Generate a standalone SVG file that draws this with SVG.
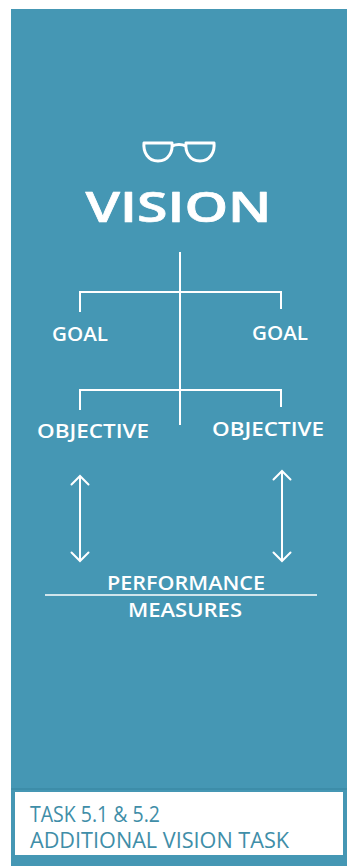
<svg xmlns="http://www.w3.org/2000/svg" width="347" height="866" viewBox="0 0 347 866">
<style>
.lbl{font-family:"Open Sans","Liberation Sans",sans-serif;font-weight:600;fill:#fff;text-anchor:middle}
.ln{stroke:#fff;stroke-width:2;fill:none}
.foot{font-family:"Open Sans","Liberation Sans",sans-serif;font-weight:400;fill:#3f8ea8;font-size:21px}
</style>
<defs>
<marker id="ah" markerWidth="20" markerHeight="20" refX="10" refY="10" orient="auto-start-reverse" markerUnits="userSpaceOnUse">
<path d="M1.5,1.5 L10,10 L1.5,18.5" fill="none" stroke="#fff" stroke-width="2" stroke-linecap="round"/>
</marker>
</defs>
<rect x="0" y="0" width="347" height="866" fill="#fff"/>
<rect x="11" y="9" width="336" height="857" fill="#4597b4"/>
<line x1="11" y1="789" x2="347" y2="789" stroke="#3b8aa6" stroke-width="1.5"/>
<g id="glasses" fill="none" stroke="#fff" stroke-width="3" stroke-linejoin="round">
<path d="M144,143 L172,143 C173,151 169,161 158,161 C148,161 143,152 144,143 Z"/>
<path d="M186,143 L214,143 C215,152 210,161 200,161 C189,161 185,151 186,143 Z"/>
<path d="M172,146 Q179,143 186,146"/>
</g>
<g id="vision"><text class="lbl" x="178.5" y="222" font-size="42" font-weight="700" stroke="#fff" stroke-width="0.7" stroke-linejoin="round" textLength="186" lengthAdjust="spacingAndGlyphs">VISION</text></g>
<g id="connectors">
<line class="ln" x1="180" y1="252" x2="180" y2="425"/>
<path class="ln" d="M80,312 V292 H281 V309"/>
<path class="ln" d="M80,410 V390 H281 V407"/>
<line class="ln" x1="80" y1="476" x2="80" y2="561" marker-start="url(#ah)" marker-end="url(#ah)"/>
<line class="ln" x1="282" y1="471" x2="282" y2="561" marker-start="url(#ah)" marker-end="url(#ah)"/>
<line x1="45" y1="595" x2="317" y2="595" stroke="#fff" stroke-width="1.5"/>
</g>
<g id="goal-left"><text class="lbl" x="80" y="341" font-size="20" textLength="56" lengthAdjust="spacingAndGlyphs">GOAL</text></g>
<g id="goal-right"><text class="lbl" x="280" y="340" font-size="20" textLength="56" lengthAdjust="spacingAndGlyphs">GOAL</text></g>
<g id="objective-left"><text class="lbl" x="93" y="438" font-size="19.5" textLength="112" lengthAdjust="spacingAndGlyphs">OBJECTIVE</text></g>
<g id="objective-right"><text class="lbl" x="268" y="436" font-size="19.5" textLength="112" lengthAdjust="spacingAndGlyphs">OBJECTIVE</text></g>
<g id="performance"><text class="lbl" x="186" y="590" font-size="19" textLength="158" lengthAdjust="spacingAndGlyphs">PERFORMANCE</text><text class="lbl" x="185" y="617" font-size="19" textLength="114" lengthAdjust="spacingAndGlyphs">MEASURES</text></g>
<g id="footer">
<rect x="15" y="792" width="328" height="63" fill="#fff"/>
<text class="foot" x="30" y="822" textLength="130" lengthAdjust="spacingAndGlyphs">TASK 5.1 &amp; 5.2</text>
<text class="foot" x="30" y="848" textLength="259" lengthAdjust="spacingAndGlyphs">ADDITIONAL VISION TASK</text>
</g>
</svg>
